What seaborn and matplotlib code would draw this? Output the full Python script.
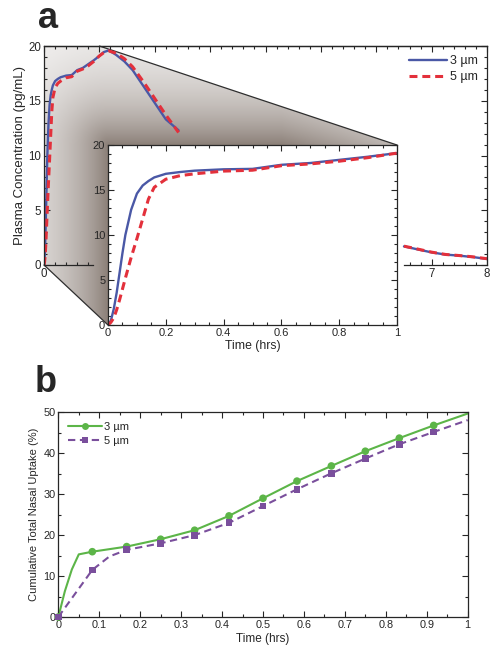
import numpy as np
import matplotlib
matplotlib.use("Agg")
import matplotlib.pyplot as plt
from matplotlib.patches import Polygon
from matplotlib.lines import Line2D
from matplotlib.ticker import MultipleLocator, FormatStrFormatter
from matplotlib.colors import LinearSegmentedColormap
import seaborn as sns

# ---- panel a: plasma concentration (pg/mL) ----
# first hour (shown in the zoom inset and at the start of the main plot)
t_first_hour = [0, 0.01, 0.02, 0.03, 0.04, 0.05, 0.06, 0.08, 0.10, 0.12, 0.14, 0.16,
                0.20, 0.25, 0.30, 0.40, 0.50, 0.60, 0.70, 0.80, 0.90, 1.00]
conc_3um_first = [0, 0.5, 1.8, 3.6, 5.8, 8.0, 10.0, 12.8, 14.6, 15.5, 16.0, 16.4,
                  16.8, 17.0, 17.15, 17.3, 17.35, 17.8, 18.0, 18.35, 18.7, 19.1]
conc_5um_first = [0, 0.3, 0.8, 1.7, 2.8, 4.0, 5.2, 7.5, 9.6, 11.8, 14.0, 15.3,
                  16.2, 16.6, 16.8, 17.1, 17.2, 17.7, 17.9, 18.2, 18.6, 19.1]
# peak and decline that stays visible above the inset
t_peak = [1.08, 1.17, 1.3, 1.45, 1.6, 1.8, 2.0, 2.2, 2.43]
conc_3um_peak = [19.45, 19.6, 19.2, 18.6, 17.8, 16.3, 14.8, 13.3, 12.3]
conc_5um_peak = [19.4, 19.55, 19.35, 18.85, 18.1, 16.7, 15.2, 13.7, 12.1]
# tail visible right of the inset
t_tail = [6.5, 6.75, 7.0, 7.25, 7.5, 7.75, 8.0]
conc_3um_tail = [1.7, 1.42, 1.15, 0.95, 0.85, 0.72, 0.55]
conc_5um_tail = [1.72, 1.45, 1.17, 0.96, 0.86, 0.74, 0.57]

# ---- panel b: cumulative total nasal uptake (%) ----
t_uptake_3um = [0, 0.016, 0.033, 0.05, 0.083, 0.167, 0.25, 0.333, 0.417, 0.5,
                0.583, 0.667, 0.75, 0.833, 0.917, 1.0]
uptake_3um = [0, 6.3, 11.6, 15.3, 15.95, 17.2, 19.0, 21.2, 24.7, 29.0,
              33.2, 36.9, 40.5, 43.7, 46.8, 49.7]
t_uptake_5um = [0, 0.083, 0.125, 0.167, 0.25, 0.333, 0.417, 0.5,
                0.583, 0.667, 0.75, 0.833, 0.917, 1.0]
uptake_5um = [0, 11.5, 14.8, 16.4, 18.0, 20.0, 23.0, 27.1,
              31.2, 35.1, 38.7, 42.2, 45.2, 48.1]
t_marks = [0, 0.083, 0.167, 0.25, 0.333, 0.417, 0.5, 0.583, 0.667, 0.75, 0.833, 0.917]
marks_3um = [0, 15.95, 17.2, 19.0, 21.2, 24.7, 29.0, 33.2, 36.9, 40.5, 43.7, 46.8]
marks_5um = [0, 11.5, 16.4, 18.0, 20.0, 23.0, 27.1, 31.2, 35.1, 38.7, 42.2, 45.2]

labels = ["3 \u00b5m", "5 \u00b5m"]

BLUE = "#4a58a6"
RED = "#e3303b"
GREEN = "#5cb548"
PURPLE = "#7a4f9c"
DASH_A = (0, (2.6, 1.6))
DASH_B = (0, (3.5, 2.2))

sns.set_style("ticks")
plt.rcParams["font.family"] = ["Liberation Sans", "DejaVu Sans"]
plt.rcParams["axes.linewidth"] = 0.9


def style_ticks(ax, size, **kw):
    ax.tick_params(which="both", direction="in", labelsize=size, width=0.8, pad=2, **kw)
    ax.tick_params(which="major", length=4)
    ax.tick_params(which="minor", length=2.2)


fig = plt.figure(figsize=(4.98, 6.52), dpi=100)

# main panel a
ax_a = fig.add_axes([0.0884, 0.5936, 0.8896, 0.3358], zorder=2)
ax_a.patch.set_alpha(0)
ax_a.set_xlim(0, 8)
ax_a.set_ylim(0, 20)
sns.lineplot(x=t_first_hour + t_peak, y=conc_3um_first + conc_3um_peak, ax=ax_a,
             color=BLUE, lw=1.7, sort=False, label=labels[0])
sns.lineplot(x=t_tail, y=conc_3um_tail, ax=ax_a, color=BLUE, lw=1.7, sort=False)
sns.lineplot(x=t_first_hour + t_peak, y=conc_5um_first + conc_5um_peak, ax=ax_a,
             color=RED, lw=2.2, linestyle=DASH_A, sort=False, label=labels[1])
sns.lineplot(x=t_tail, y=conc_5um_tail, ax=ax_a, color=RED, lw=2.2,
             linestyle=DASH_A, sort=False)
ax_a.legend(loc="upper right", frameon=False, fontsize=9, handlelength=3.0,
            handletextpad=0.25, labelspacing=0.3, borderaxespad=0.35)
ax_a.set_ylabel("Plasma Concentration (pg/mL)", fontsize=9.5, labelpad=2)
ax_a.yaxis.set_major_locator(MultipleLocator(5))
ax_a.yaxis.set_minor_locator(MultipleLocator(1))
ax_a.set_xticks([0])
ax_a.set_xticks([0.2, 0.4, 0.6, 0.8], minor=True)
ax_a.spines["bottom"].set_bounds(0, 0.88)
style_ticks(ax_a, 8.3, right=True, top=False)

sec_top = ax_a.secondary_xaxis("top")
sec_top.xaxis.set_major_locator(MultipleLocator(1))
sec_top.xaxis.set_minor_locator(MultipleLocator(0.2))
style_ticks(sec_top, 8.3, labeltop=False)

sec_bot = ax_a.secondary_xaxis("bottom")
sec_bot.set_ticks([7, 8])
sec_bot.set_ticks([6.6, 6.8, 7.2, 7.4, 7.6, 7.8], minor=True)
sec_bot.spines["bottom"].set_bounds(6.5, 8)
style_ticks(sec_bot, 8.3)

# zoom inset
ax_in = fig.add_axes([0.2169, 0.5015, 0.5803, 0.2761], zorder=3)
ax_in.set_xlim(0, 1)
ax_in.set_ylim(0, 20)
sns.lineplot(x=t_first_hour, y=conc_3um_first, ax=ax_in, color=BLUE, lw=1.7, sort=False)
sns.lineplot(x=t_first_hour, y=conc_5um_first, ax=ax_in, color=RED, lw=2.2,
             linestyle=DASH_A, sort=False)
ax_in.xaxis.set_major_locator(MultipleLocator(0.2))
ax_in.xaxis.set_minor_locator(MultipleLocator(0.05))
ax_in.xaxis.set_major_formatter(FormatStrFormatter("%g"))
ax_in.yaxis.set_major_locator(MultipleLocator(5))
ax_in.yaxis.set_minor_locator(MultipleLocator(1))
ax_in.set_xlabel("Time (hrs)", fontsize=8.8, labelpad=1.5)
style_ticks(ax_in, 8, top=True, right=True)

# shaded zoom projection between main plot and inset
ax_shade = fig.add_axes([0, 0, 1, 1], zorder=1)
ax_shade.set_axis_off()
ax_shade.set_xlim(0, 1)
ax_shade.set_ylim(0, 1)
to_fig = fig.transFigure.inverted()
p_origin = to_fig.transform(ax_a.transData.transform((0, 0)))
p_zoom_tl = to_fig.transform(ax_a.transData.transform((0, 20)))
p_zoom_tr = to_fig.transform(ax_a.transData.transform((1, 20)))
p_in_bl = to_fig.transform(ax_in.transAxes.transform((0, 0)))
p_in_tr = to_fig.transform(ax_in.transAxes.transform((1, 1)))

W, H = fig.get_size_inches() * fig.dpi
gx, gy = np.meshgrid(np.linspace(0, 1, 500), np.linspace(0, 1, 650))
px, py = gx * W, gy * H
b = ax_in.get_position()
x0, x1, y0, y1 = b.x0 * W, b.x1 * W, b.y0 * H, b.y1 * H
dist = np.hypot(np.maximum(np.maximum(x0 - px, px - x1), 0),
                np.maximum(np.maximum(y0 - py, py - y1), 0))
fade_right = 1 - 0.45 * np.clip((px - x0 - 0.6 * (x1 - x0)) / (0.4 * (x1 - x0)), 0, 1)
dark = 0.85 * np.exp(-dist / 60) * fade_right
shade_cmap = LinearSegmentedColormap.from_list("shade", ["#ffffff", "#76685f"])
im = ax_shade.imshow(dark, extent=(0, 1, 0, 1), origin="lower", cmap=shade_cmap,
                     vmin=0, vmax=1, aspect="auto", interpolation="bilinear")
poly = Polygon([p_origin, p_in_bl, p_in_tr, p_zoom_tr, p_zoom_tl], closed=True,
               facecolor="none", edgecolor="none", transform=ax_shade.transData)
ax_shade.add_patch(poly)
im.set_clip_path(poly)
for p, q in [(p_origin, p_in_bl), (p_zoom_tr, p_in_tr)]:
    ax_shade.plot([p[0], q[0]], [p[1], q[1]], color="#2e2e2e", lw=0.9)

# panel b
ax_b = fig.add_axes([0.1171, 0.0537, 0.822, 0.3139])
sns.lineplot(x=t_uptake_3um, y=uptake_3um, ax=ax_b, color=GREEN, lw=1.5, sort=False)
sns.lineplot(x=t_uptake_5um, y=uptake_5um, ax=ax_b, color=PURPLE, lw=1.5,
             linestyle=DASH_B, sort=False)
sns.scatterplot(x=t_marks, y=marks_3um, ax=ax_b, color=GREEN, marker="o", s=30,
                edgecolor="none", zorder=3, clip_on=False)
sns.scatterplot(x=t_marks, y=marks_5um, ax=ax_b, color=PURPLE, marker="s", s=24,
                edgecolor="none", zorder=4, clip_on=False)
ax_b.set_xlim(0, 1)
ax_b.set_ylim(0, 50)
ax_b.xaxis.set_major_locator(MultipleLocator(0.1))
ax_b.xaxis.set_minor_locator(MultipleLocator(0.05))
ax_b.xaxis.set_major_formatter(FormatStrFormatter("%g"))
ax_b.yaxis.set_major_locator(MultipleLocator(10))
ax_b.yaxis.set_minor_locator(MultipleLocator(5))
ax_b.set_xlabel("Time (hrs)", fontsize=8.5, labelpad=2)
ax_b.set_ylabel("Cumulative Total Nasal Uptake (%)", fontsize=8, labelpad=3)
style_ticks(ax_b, 7.8, top=True, right=True)
handles = [Line2D([], [], color=GREEN, lw=1.5, marker="o", ms=5, markeredgewidth=0),
           Line2D([], [], color=PURPLE, lw=1.5, linestyle=DASH_B, marker="s",
                  ms=4.5, markeredgewidth=0)]
ax_b.legend(handles, labels, loc="upper left", frameon=False, fontsize=8,
            handlelength=3.0, handletextpad=0.2, labelspacing=0.3, borderaxespad=0.5)

fig.text(38 / 498, 1 - 28 / 652, "a", fontsize=26, fontweight="bold", va="baseline")
fig.text(35 / 498, 1 - 392 / 652, "b", fontsize=26, fontweight="bold", va="baseline")

fig.savefig("out.png", dpi=100)
